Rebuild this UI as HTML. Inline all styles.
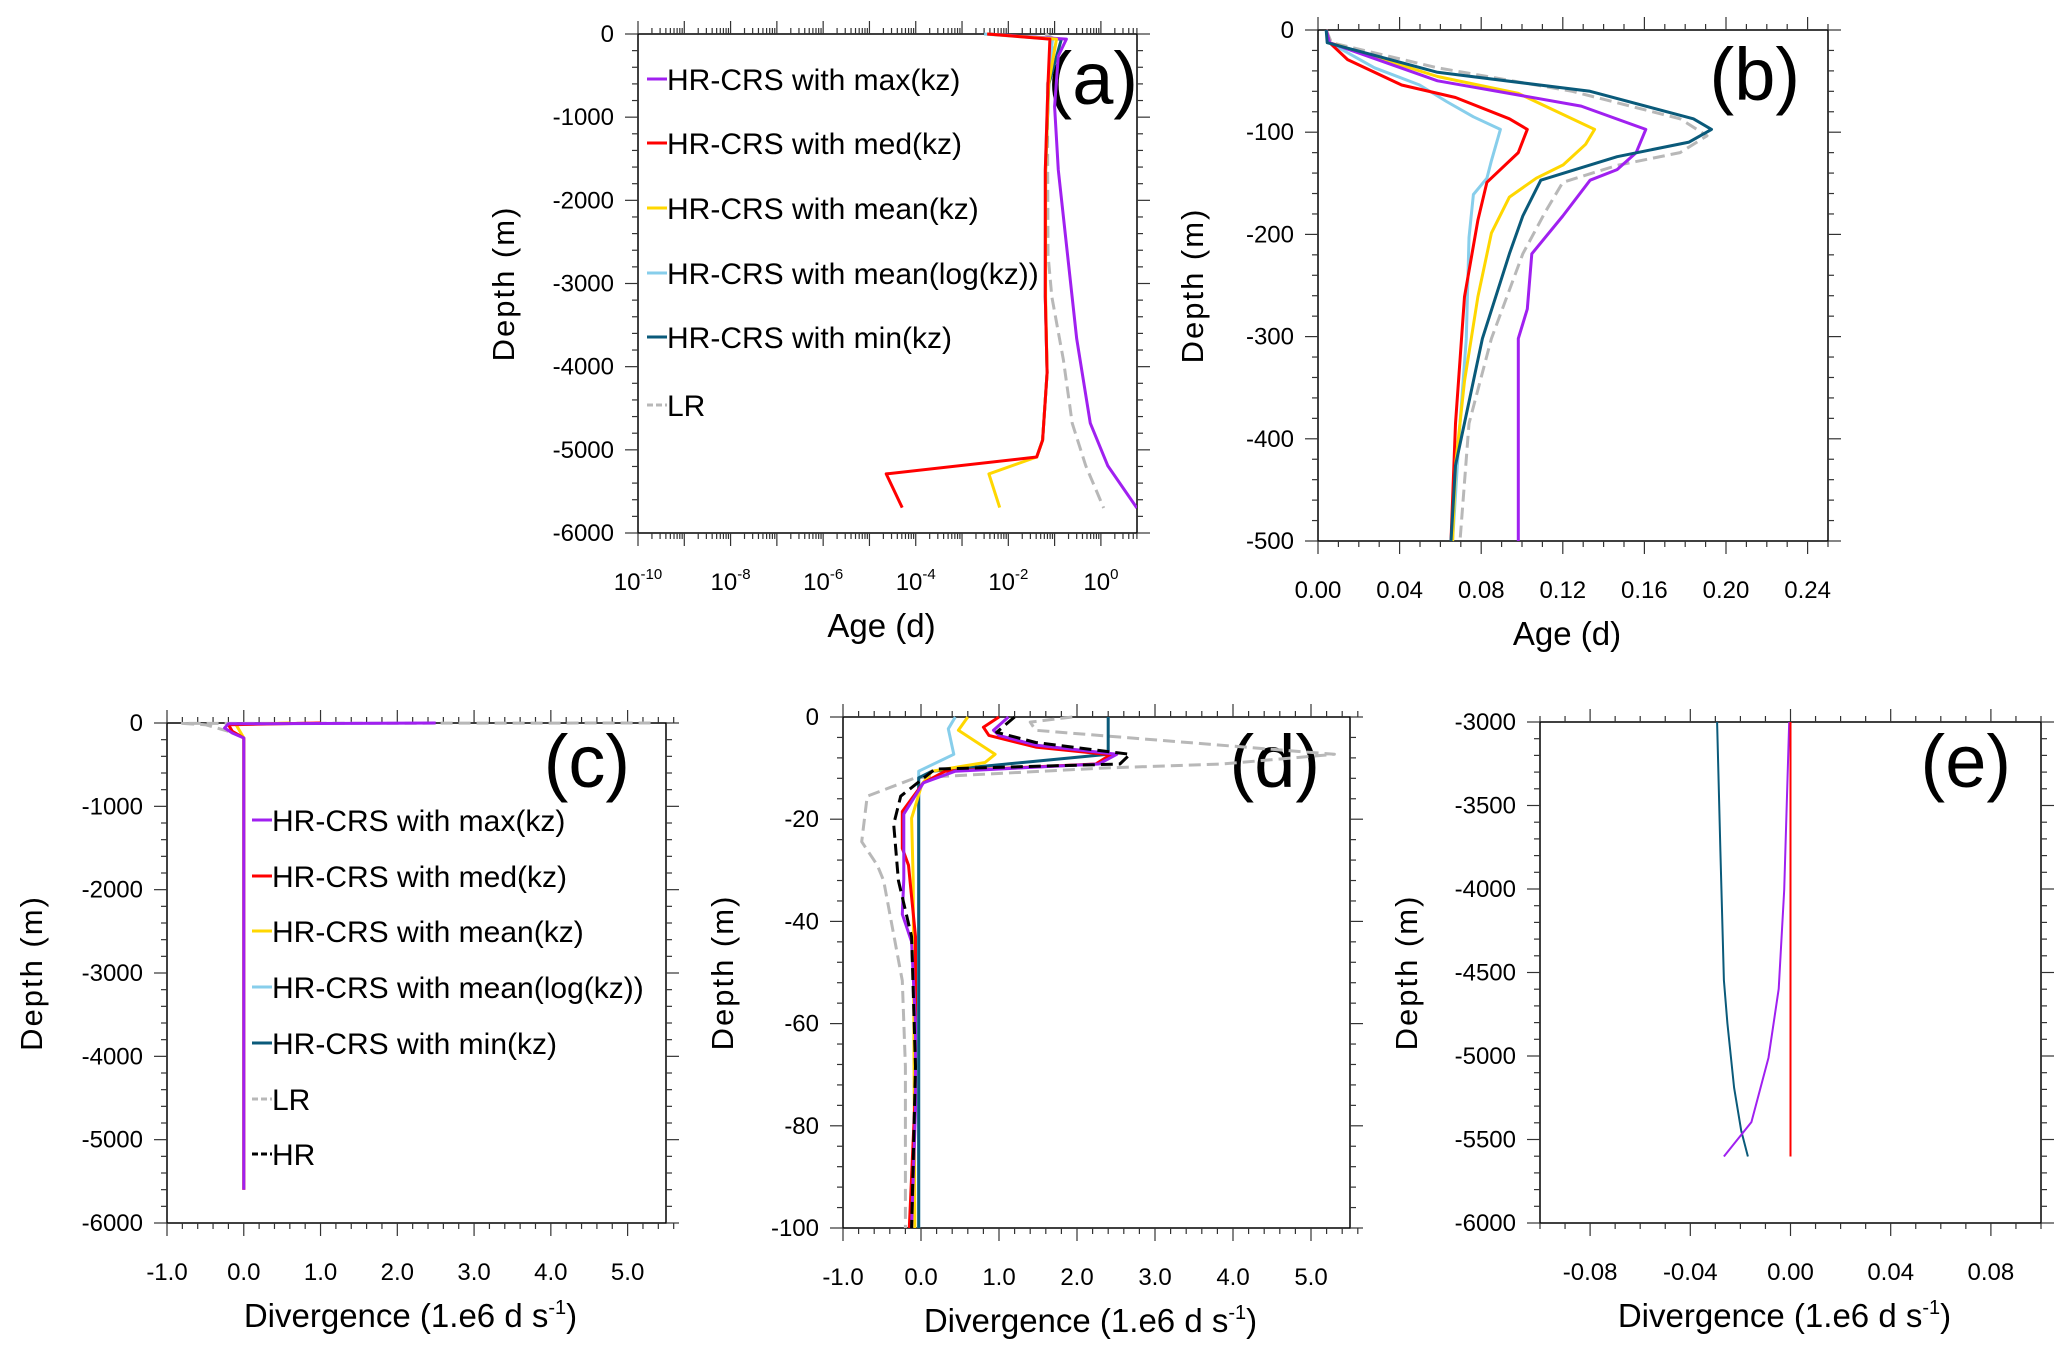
<!DOCTYPE html>
<html><head><meta charset="utf-8"><style>
html,body{margin:0;padding:0;background:#fff;}
svg{display:block;font-family:"Liberation Sans",Arial,sans-serif;}
</style></head><body>
<svg id="fig" width="2067" height="1349" viewBox="0 0 2067 1349" xmlns="http://www.w3.org/2000/svg"></svg>
<script>
// ---------- Panel (a) data: age (d), log axis ----------
const aDepthMax=[0,-61,-264,-873,-1635,-2650,-3665,-4680,-5190,-5700];
const aAgeMax=[3.5e-3,0.18,0.12,0.10,0.12,0.19,0.30,0.59,1.4,6.0];
const aDepthMed=[0,-61,-600,-1635,-3157,-4071,-4883,-5086,-5289,-5695];
const aAgeMed=[3.5e-3,0.079,0.072,0.063,0.063,0.069,0.055,0.041,2.3e-5,5.1e-5];
const aDepthMean=[0,-61,-600,-1635,-3157,-4071,-4883,-5086,-5289,-5695];
const aAgeMean=[3.5e-3,0.11,0.074,0.064,0.064,0.069,0.055,0.041,3.8e-3,6.5e-3];
const aDepthLog=[0,-61,-600,-1635,-3157,-4071,-4883,-5086];
const aAgeLog=[3.0e-3,0.09,0.072,0.063,0.063,0.069,0.055,0.041];
const aDepthMin=[0,-61,-600,-1635,-3157,-4071,-4883,-5086];
const aAgeMin=[3.5e-3,0.14,0.075,0.064,0.063,0.069,0.055,0.041];
const aDepthLR=[0,-61,-600,-2650,-3157,-3919,-4680,-5190,-5700];
const aAgeLR=[0.063,0.1,0.07,0.072,0.087,0.155,0.24,0.47,1.15];
const aXTickExp=[-10,-8,-6,-4,-2,0];
const aYTicks=[0,-1000,-2000,-3000,-4000,-5000,-6000];

// ---------- Panel (b) data ----------
const bDepthMax=[0,-12.4,-49.7,-74.5,-97.3,-120,-136.6,-147,-182,-219,-273,-302,-500];
const bAgeMax=[0.004,0.0057,0.0586,0.129,0.1607,0.156,0.1466,0.1334,0.120,0.1048,0.1026,0.0982,0.0982];
const bDepthMin=[0,-12.4,-41.4,-60,-86.9,-97.3,-109.7,-124,-147,-182,-219,-302,-426,-500];
const bAgeMin=[0.004,0.0045,0.0586,0.1334,0.184,0.1929,0.1819,0.1466,0.1092,0.1004,0.0938,0.0806,0.0674,0.0652];
const bDepthMed=[0,-12.4,-29,-53.8,-66,-86.9,-97.3,-120,-149,-186,-261,-385,-500];
const bAgeMed=[0.004,0.0057,0.0145,0.041,0.0674,0.0938,0.1026,0.0982,0.0828,0.0784,0.0718,0.0674,0.0652];
const bDepthMean=[0,-12.4,-45.5,-62,-97.3,-111.8,-132,-145,-163.5,-198.7,-261,-343.5,-426,-500];
const bAgeMean=[0.004,0.0057,0.0586,0.0982,0.1356,0.1312,0.1202,0.107,0.0938,0.085,0.0784,0.0718,0.0674,0.066];
const bDepthLog=[0,-12.4,-37,-53.8,-70,-84.9,-97.3,-128,-145,-161,-203,-302,-385,-500];
const bAgeLog=[0.004,0.0057,0.0277,0.0498,0.063,0.0762,0.0894,0.085,0.0828,0.0762,0.074,0.0727,0.0696,0.066];
const bDepthLR=[0,-12.4,-37,-60,-86.9,-103.5,-120,-132.5,-149,-178,-219,-302,-385,-500];
const bAgeLR=[0.004,0.0066,0.0586,0.1246,0.1775,0.1907,0.1775,0.1466,0.120,0.1114,0.1004,0.085,0.074,0.0696];
const bXTicks=[0,0.04,0.08,0.12,0.16,0.20,0.24];
const bYTicks=[0,-100,-200,-300,-400,-500];

// ---------- Panel (c) data ----------
const cDepthMax=[0,-10,-60,-120,-180,-5600];
const cDivMax=[2.5,-0.2,-0.25,-0.15,0,0];
const cDepthMed=[0,-20,-100,-180,-5600];
const cDivMed=[1.0,-0.2,-0.15,0,0];
const cDepthMean=[0,-20,-100,-180,-5600];
const cDivMean=[0.6,-0.1,-0.05,0,0];
const cDepthLR=[0,-5,-20,-100];
const cDivLR=[5.3,-0.8,-0.5,-0.2];
const cXTicks=[-1,0,1,2,3,4,5];
const cYTicks=[0,-1000,-2000,-3000,-4000,-5000,-6000];

// ---------- Panel (d) data ----------
const dDepthMax=[0,-2.6,-3.6,-5.5,-7.3,-9.2,-10.6,-12.9,-19,-31.7,-38.6,-44,-60,-76.8,-100];
const dDivMax=[1.12,0.93,1.0,1.47,2.51,2.28,0.44,0.03,-0.22,-0.22,-0.24,-0.12,-0.07,-0.07,-0.12];
const dDepthMed=[0,-2,-3.6,-5.9,-7.4,-9.2,-10.6,-12.9,-18.5,-25.7,-29,-43,-72.6,-100];
const dDivMed=[1.0,0.8,0.87,1.47,2.43,2.24,0.31,0.03,-0.24,-0.24,-0.16,-0.07,-0.07,-0.15];
const dDepthHR=[0,-3,-5,-7.3,-9.2,-10.2,-15.5,-21,-32,-43,-68.4,-100];
const dDivHR=[1.2,0.97,1.47,2.68,2.55,0.18,-0.26,-0.35,-0.29,-0.12,-0.07,-0.12];
const dDepthMin=[0,-7.3,-10.6,-11.9,-100];
const dDivMin=[2.4,2.4,0.14,-0.03,-0.03];
const dDepthMean=[0,-2.6,-7.3,-8.9,-10.6,-13.2,-19.8,-32,-100];
const dDivMean=[0.6,0.48,0.95,0.82,0.14,0.01,-0.12,-0.1,-0.08];
const dDepthLog=[0,-2.3,-7.3,-10.6,-100];
const dDivLog=[0.44,0.35,0.42,-0.03,-0.03];
const dDepthLR=[0,-1,-2.6,-7.3,-9.2,-10,-11.9,-15.5,-24.4,-29,-32,-51.6,-68.4,-85,-100];
const dDivLR=[1.94,1.4,1.47,5.3,3.86,2.32,-0.07,-0.69,-0.76,-0.56,-0.48,-0.24,-0.2,-0.2,-0.2];
const dXTicks=[-1,0,1,2,3,4,5];
const dYTicks=[0,-20,-40,-60,-80,-100];

// ---------- Panel (e) data ----------
const eDepthMin=[-3000,-3775,-4547,-4804,-5190,-5447,-5602];
const eDivMin=[-0.0293,-0.028,-0.0266,-0.0252,-0.0225,-0.0197,-0.017];
const eDepthMax=[-3000,-4006,-4598,-5010,-5396,-5602];
const eDivMax=[-0.0005,-0.0025,-0.0047,-0.0088,-0.0156,-0.0266];
const eDepthMed=[-3000,-5602];
const eDivMed=[0,0];
const eXTicks=[-0.08,-0.04,0,0.04,0.08];
const eYTicks=[-3000,-3500,-4000,-4500,-5000,-5500,-6000];

const NS='http://www.w3.org/2000/svg';
const svg=document.getElementById('fig');
function mk(tag,parent,attrs){const e=document.createElementNS(NS,tag);for(const k in attrs)e.setAttribute(k,attrs[k]);parent.appendChild(e);return e;}

const COL={max:'#a020f0',med:'#ff0000',mean:'#ffd700',log:'#87ceeb',min:'#0a5a7a',lr:'#b8b8b8',hr:'#000000'};

function panel(cfg){
  const g=mk('g',svg,{});
  
  
  const L=cfg.x0,R=cfg.x1,T=cfg.y0,B=cfg.y1;
  const xs=v=>cfg.log? L+(Math.log10(v)-cfg.xmin)/(cfg.xmax-cfg.xmin)*(R-L) : L+(v-cfg.xmin)/(cfg.xmax-cfg.xmin)*(R-L);
  const ys=v=>T+(cfg.ymax-v)/(cfg.ymax-cfg.ymin)*(B-T);
  const cp=mk('clipPath',g,{id:'clip-'+cfg.id});
  mk('rect',cp,{x:L,y:T-2,width:R-L,height:B-T+4});
  const fr=mk('rect',g,{x:L,y:T,width:R-L,height:B-T,fill:'none',stroke:'#000','stroke-width':1.5});
  
  
  const ax=mk('g',g,{stroke:'#333','stroke-width':1.2});
  
  
  const xt=[];
  if(cfg.log){
    for(let d=cfg.xmin;d<=Math.floor(cfg.xmax);d++){
      xt.push([Math.pow(10,d),true]);
      for(let m=2;m<10;m++){const v=m*Math.pow(10,d);if(Math.log10(v)<=cfg.xmax)xt.push([v,false]);}
    }
  } else {
    const n=Math.round((cfg.xmax-cfg.xmin)/cfg.xminor);
    for(let i=0;i<=n;i++){const v=cfg.xmin+i*cfg.xminor;const maj=Math.abs(v/cfg.xmajor-Math.round(v/cfg.xmajor))<1e-6;xt.push([v,maj]);}
  }
  xt.forEach(([v,maj])=>{const x=xs(v);const l=maj?13:6;
    mk('line',ax,{x1:x,x2:x,y1:B,y2:B+l});mk('line',ax,{x1:x,x2:x,y1:T,y2:T-l});});
  const ny=Math.round((cfg.ymax-cfg.ymin)/cfg.yminor);
  for(let i=0;i<=ny;i++){const v=cfg.ymax-i*cfg.yminor;const maj=Math.abs(v/cfg.ymajor-Math.round(v/cfg.ymajor))<1e-6;const y=ys(v);const l=maj?13:6;
    mk('line',ax,{x1:L,x2:L-l,y1:y,y2:y});mk('line',ax,{x1:R,x2:R+l,y1:y,y2:y});}
  cfg.xlabels.forEach(v=>{
    const t=mk('text',g,{x:cfg.log?xs(Math.pow(10,v)):xs(v),y:B+57,'font-size':24,'text-anchor':'middle'});
    
    
    if(cfg.log){t.textContent='10';const s=mk('tspan',t,{'font-size':15,dy:-11});s.textContent=String(v);}
    else t.textContent=v.toFixed(cfg.xdec);
  });
  cfg.ylabels.forEach(v=>{
    const t=mk('text',g,{x:L-24,y:ys(v)+8,'font-size':24,'text-anchor':'end'});
    
    
    t.textContent=String(v);
  });
  const xt2=mk('text',g,{x:(L+R)/2-6,y:B+104,'font-size':33,'text-anchor':'middle'});
  
  
  if(cfg.xtitle==='div'){xt2.textContent='Divergence (1.e6 d s';const s=mk('tspan',xt2,{'font-size':20,dy:-13});s.textContent='-1';const s2=mk('tspan',xt2,{dy:13});s2.textContent=')';}
  else xt2.textContent=cfg.xtitle;
  const ymid=(T+B)/2;
  const yt=mk('text',g,{x:cfg.ylx,y:ymid,'font-size':31,'text-anchor':'middle','letter-spacing':'2',transform:`rotate(-90 ${cfg.ylx} ${ymid})`,dy:10});
  
  
  yt.textContent='Depth (m)';
  const pl=mk('text',g,{x:cfg.lx,y:cfg.ly,'font-size':74,'text-anchor':'end'});
  
  
  pl.textContent='('+cfg.id+')';
  const sg=mk('g',g,{'clip-path':`url(#clip-${cfg.id})`,fill:'none','stroke-linejoin':'round'});
  
  
  cfg.series.forEach(s=>{
    const pts=s.d.map((dv,i)=>xs(s.v[i]).toFixed(1)+','+ys(dv).toFixed(1)).join(' ');
    const p=mk('polyline',sg,{points:pts,stroke:COL[s.c],'stroke-width':s.w||3});
    if(s.c==='lr'||s.c==='hr')p.setAttribute('stroke-dasharray','12 6');
    
    
  });
  return g;
}

function legend(x,ys,items){
  const g=mk('g',svg,{});
  
  
  items.forEach((it,i)=>{
    const y=ys[i];
    const ln=mk('line',g,{x1:x,x2:x+20,y1:y-6,y2:y-6,stroke:COL[it[0]],'stroke-width':3});
    if(it[0]==='lr'||it[0]==='hr')ln.setAttribute('stroke-dasharray','6 3');
    
    
    const t=mk('text',g,{x:x+20,y:y+5,'font-size':30});
    
    
    t.textContent=it[1];
  });
}

panel({id:'a',x0:638,x1:1137,y0:34,y1:533,log:true,xmin:-10,xmax:0.78,ymin:-6000,ymax:0,yminor:200,ymajor:1000,
  xlabels:aXTickExp,ylabels:aYTicks,xtitle:'Age (d)',ylx:504,lx:1138,ly:104,
  series:[{n:'lr',c:'lr',d:aDepthLR,v:aAgeLR},{n:'min',c:'min',d:aDepthMin,v:aAgeMin},{n:'mean-log',c:'log',d:aDepthLog,v:aAgeLog},
  {n:'max',c:'max',d:aDepthMax,v:aAgeMax},{n:'mean',c:'mean',d:aDepthMean,v:aAgeMean},{n:'med',c:'med',d:aDepthMed,v:aAgeMed}]});
legend(647,[85,149,214,279,343,411],[['max','HR-CRS with max(kz)'],['med','HR-CRS with med(kz)'],['mean','HR-CRS with mean(kz)'],['log','HR-CRS with mean(log(kz))'],['min','HR-CRS with min(kz)'],['lr','LR']]);

panel({id:'b',x0:1318,x1:1828,y0:30,y1:541,xmin:0,xmax:0.25,xminor:0.01,xmajor:0.04,xdec:2,ymin:-500,ymax:0,yminor:20,ymajor:100,
  xlabels:bXTicks,ylabels:bYTicks,xtitle:'Age (d)',ylx:1193,lx:1800,ly:100,
  series:[{n:'lr',c:'lr',d:bDepthLR,v:bAgeLR},{n:'mean-log',c:'log',d:bDepthLog,v:bAgeLog},{n:'med',c:'med',d:bDepthMed,v:bAgeMed},
  {n:'mean',c:'mean',d:bDepthMean,v:bAgeMean},{n:'max',c:'max',d:bDepthMax,v:bAgeMax},{n:'min',c:'min',d:bDepthMin,v:bAgeMin}]});

panel({id:'c',x0:167,x1:666,y0:723,y1:1223,xmin:-1,xmax:5.5,xminor:0.2,xmajor:1,xdec:1,ymin:-6000,ymax:0,yminor:200,ymajor:1000,
  xlabels:cXTicks,ylabels:cYTicks,xtitle:'div',ylx:32,lx:630,ly:787,
  series:[{n:'lr',c:'lr',d:cDepthLR,v:cDivLR},{n:'mean',c:'mean',d:cDepthMean,v:cDivMean},{n:'med',c:'med',d:cDepthMed,v:cDivMed},{n:'max',c:'max',d:cDepthMax,v:cDivMax}]});
legend(252,[826,882,937,993,1049,1105,1160],[['max','HR-CRS with max(kz)'],['med','HR-CRS with med(kz)'],['mean','HR-CRS with mean(kz)'],['log','HR-CRS with mean(log(kz))'],['min','HR-CRS with min(kz)'],['lr','LR'],['hr','HR']]);

panel({id:'d',x0:843,x1:1350,y0:717,y1:1228,xmin:-1,xmax:5.5,xminor:0.2,xmajor:1,xdec:1,ymin:-100,ymax:0,yminor:4,ymajor:20,
  xlabels:dXTicks,ylabels:dYTicks,xtitle:'div',ylx:723,lx:1320,ly:787,
  series:[{n:'lr',c:'lr',d:dDepthLR,v:dDivLR},{n:'mean-log',c:'log',d:dDepthLog,v:dDivLog},{n:'min',c:'min',d:dDepthMin,v:dDivMin},
  {n:'mean',c:'mean',d:dDepthMean,v:dDivMean},{n:'med',c:'med',d:dDepthMed,v:dDivMed},{n:'max',c:'max',d:dDepthMax,v:dDivMax},{n:'hr',c:'hr',d:dDepthHR,v:dDivHR}]});

panel({id:'e',x0:1540,x1:2041,y0:722,y1:1223,xmin:-0.1,xmax:0.1,xminor:0.01,xmajor:0.04,xdec:2,ymin:-6000,ymax:-3000,yminor:100,ymajor:500,
  xlabels:eXTicks,ylabels:eYTicks,xtitle:'div',ylx:1407,lx:2011,ly:787,
  series:[{n:'min',c:'min',d:eDepthMin,v:eDivMin,w:2},{n:'max',c:'max',d:eDepthMax,v:eDivMax,w:2},{n:'med',c:'med',d:eDepthMed,v:eDivMed,w:2}]});
</script>
</body></html>
